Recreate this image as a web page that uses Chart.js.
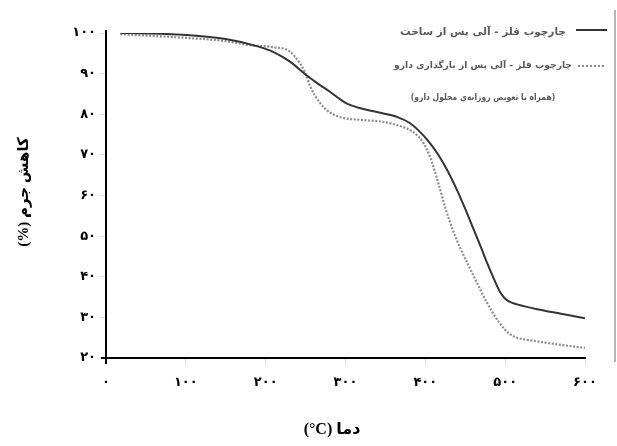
<!DOCTYPE html>
<html>
<head>
<meta charset="utf-8">
<script src="https://cdn.jsdelivr.net/npm/chart.js@4.4.1/dist/chart.umd.min.js"></script>
<style>
  html, body { margin: 0; padding: 0; background: #fff; }
  #tga { display: block; direction: rtl; }
</style>
</head>
<body>
<canvas id="tga" width="617" height="446"></canvas>
<script>
// TGA curves: temperature (°C) vs remaining mass (%)
const asMadeTemp = [18, 50, 100, 150, 190, 210, 230, 250, 265, 280, 300, 320, 345, 365, 380, 392, 405, 415, 427, 440, 450, 460, 470, 478, 487, 494, 500, 506, 515, 540, 570, 600];
const asMadeMass = [100, 99.9, 99.5, 98.5, 96.7, 95.3, 93.0, 89.8, 87.6, 85.6, 82.8, 81.4, 80.3, 79.3, 77.9, 75.9, 73.1, 70.4, 66.4, 61.2, 56.7, 51.9, 47.1, 43.1, 39.0, 36.1, 34.6, 33.8, 33.2, 32.0, 30.9, 29.8];

const loadedTemp = [18, 100, 150, 180, 210, 230, 243, 250, 256, 268, 280, 295, 320, 345, 365, 380, 390, 398, 406, 416, 425, 435, 443, 460, 477, 493, 505, 515, 530, 550, 575, 600];
const loadedMass = [99.7, 98.8, 98.0, 97.0, 96.5, 95.5, 92.5, 90.0, 86.8, 82.8, 80.5, 79.2, 78.6, 78.2, 77.3, 76.2, 74.8, 72.8, 69.5, 63.2, 57.0, 51.2, 47.4, 40.4, 33.7, 28.6, 26.0, 25.0, 24.4, 23.8, 23.1, 22.5];

const seriesNames = [
  ['چارچوب فلز - آلی پس از ساخت'],
  ['چارچوب فلز - آلی پس از بارگذاری دارو', '(همراه با تعویض روزانه‌ی محلول دارو)']
];

const xTickValues = [0, 100, 200, 300, 400, 500, 600];
const xTickLabels = ['۰', '۱۰۰', '۲۰۰', '۳۰۰', '۴۰۰', '۵۰۰', '۶۰۰'];
const yTickValues = [20, 30, 40, 50, 60, 70, 80, 90, 100];
const yTickLabels = ['۲۰', '۳۰', '۴۰', '۵۰', '۶۰', '۷۰', '۸۰', '۹۰', '۱۰۰'];

// LRM keeps "°C" in left-to-right order inside the right-to-left title
const xTitle = 'دما (\u200E°C)';
const yTitle = 'کاهش جرم (%)';

const toPoints = (xs, ys) => xs.map((x, i) => ({ x: x, y: ys[i] }));
const labelFor = (values, labels) => v => {
  const i = values.indexOf(v);
  return i >= 0 ? labels[i] : '';
};

const SOLID = '#333333';
const DOTTED = '#8c8c8c';
const ARABIC_FONT = '"DejaVu Sans", sans-serif';

// Legend, axis titles and the frame line at the right edge
const decorations = {
  id: 'decorations',
  afterDraw(chart) {
    const ctx = chart.ctx;
    const area = chart.chartArea;
    ctx.save();
    ctx.direction = 'rtl';

    // right frame line
    ctx.strokeStyle = '#b5b5b5';
    ctx.lineWidth = 2;
    ctx.beginPath();
    ctx.moveTo(615, 10);
    ctx.lineTo(615, 362);
    ctx.stroke();

    // origin cross ticks
    ctx.strokeStyle = '#000';
    ctx.lineWidth = 2;
    ctx.beginPath();
    ctx.moveTo(area.left - 5, area.bottom);
    ctx.lineTo(area.left, area.bottom);
    ctx.moveTo(area.left, area.bottom);
    ctx.lineTo(area.left, area.bottom + 6);
    ctx.moveTo(area.left, area.top);
    ctx.lineTo(area.left, area.top - 3);
    ctx.stroke();

    // legend
    ctx.lineWidth = 2;
    ctx.strokeStyle = SOLID;
    ctx.setLineDash([]);
    ctx.beginPath();
    ctx.moveTo(576, 30);
    ctx.lineTo(607, 30);
    ctx.stroke();

    ctx.strokeStyle = DOTTED;
    ctx.setLineDash([2, 2]);
    ctx.beginPath();
    ctx.moveTo(578, 66);
    ctx.lineTo(605, 66);
    ctx.stroke();
    ctx.setLineDash([]);

    ctx.fillStyle = '#5a5a5a';
    ctx.textAlign = 'center';
    ctx.textBaseline = 'middle';
    ctx.font = 'bold 10.5px ' + ARABIC_FONT;
    ctx.fillText(seriesNames[0][0], 483, 32);
    ctx.font = 'bold 9.2px ' + ARABIC_FONT;
    ctx.fillText(seriesNames[1][0], 483, 66);
    // second line is set a little narrower
    ctx.save();
    ctx.translate(483, 98);
    ctx.scale(0.83, 1);
    ctx.fillText(seriesNames[1][1], 0, 0);
    ctx.restore();

    // axis titles
    ctx.fillStyle = '#000';
    ctx.font = 'bold 16px "Liberation Serif", ' + ARABIC_FONT;
    ctx.fillText(xTitle, 332, 430);

    ctx.translate(24, 192);
    ctx.rotate(-Math.PI / 2);
    ctx.font = 'bold 15px "Liberation Serif", ' + ARABIC_FONT;
    ctx.fillText(yTitle, 0, 0);
    ctx.restore();
  }
};

new Chart(document.getElementById('tga'), {
  type: 'line',
  data: {
    datasets: [
      {
        label: seriesNames[0].join(' '),
        data: toPoints(asMadeTemp, asMadeMass),
        borderColor: SOLID,
        borderWidth: 2,
        pointRadius: 0,
        cubicInterpolationMode: 'monotone',
        fill: false
      },
      {
        label: seriesNames[1].join(' '),
        data: toPoints(loadedTemp, loadedMass),
        borderColor: DOTTED,
        borderWidth: 2.2,
        borderDash: [2, 1.6],
        pointRadius: 0,
        cubicInterpolationMode: 'monotone',
        fill: false
      }
    ]
  },
  options: {
    responsive: false,
    animation: false,
    devicePixelRatio: 1,
    layout: { padding: { left: 0, right: 32, top: 33, bottom: 0 } },
    plugins: {
      legend: { display: false },
      tooltip: { enabled: false }
    },
    scales: {
      x: {
        type: 'linear',
        min: 0,
        max: 600,
        afterFit(scale) { scale.height = 88; },
        afterBuildTicks(scale) { scale.ticks = xTickValues.map(v => ({ value: v })); },
        border: { display: true, color: '#000', width: 2 },
        grid: { drawOnChartArea: false, color: '#e2e2e2', tickLength: 7, lineWidth: 1 },
        ticks: {
          color: '#000',
          padding: 10,
          maxRotation: 0,
          font: { family: ARABIC_FONT, size: 13, weight: 'bold' },
          callback: labelFor(xTickValues, xTickLabels)
        }
      },
      y: {
        min: 20,
        max: 100,
        afterFit(scale) { scale.width = 106; },
        afterBuildTicks(scale) { scale.ticks = yTickValues.map(v => ({ value: v })); },
        border: { display: true, color: '#000', width: 2 },
        grid: { drawOnChartArea: false, color: '#e2e2e2', tickLength: 7, lineWidth: 1 },
        ticks: {
          color: '#000',
          padding: 3,
          font: { family: ARABIC_FONT, size: 13, weight: 'bold' },
          callback: labelFor(yTickValues, yTickLabels)
        }
      }
    }
  },
  plugins: [decorations]
});
</script>
</body>
</html>
